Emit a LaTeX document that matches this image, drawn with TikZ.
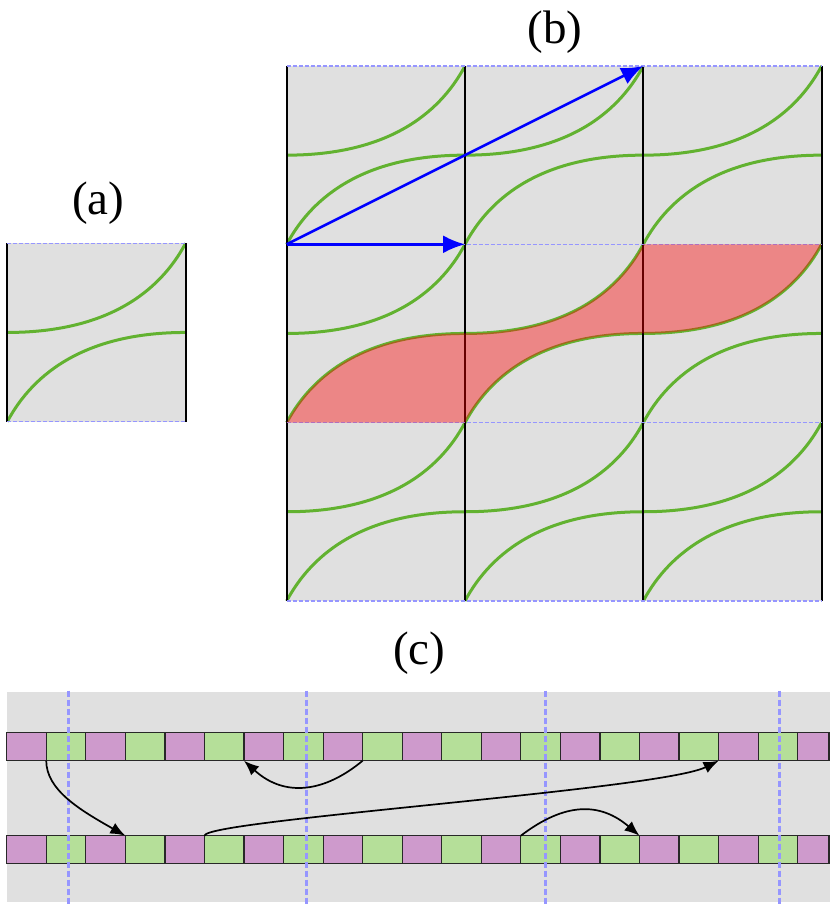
\documentclass[tikz,border=0pt]{standalone}
\usepackage{fontspec}
\setmainfont{Liberation Serif}
\usetikzlibrary{arrows.meta}
\definecolor{bggray}{RGB}{224,224,224}
\definecolor{curvegreen}{RGB}{98,178,48}
\definecolor{dashblue}{RGB}{150,150,255}
\definecolor{cellpurple}{RGB}{206,154,204}
\definecolor{cellgreen}{RGB}{181,223,153}
\definecolor{celledge}{RGB}{40,40,40}
\tikzset{
 gcurve/.style={curvegreen, line width=3pt},
 vline/.style={black, line width=2pt},
 hdash/.style={dashblue, line width=1.4pt, dash pattern=on 4pt off 2pt},
 vdash/.style={dashblue, line width=2.8pt, dash pattern=on 6pt off 3pt},
 lbl/.style={font=\fontsize{47}{56}\selectfont, inner sep=0pt, anchor=base},
 barrow/.style={blue, line width=2.6pt, -{Latex[length=22pt,width=18pt]}},
 karrow/.style={black, line width=1.7pt, -{Latex[length=15pt,width=12pt]}},
 pcell/.style={fill=cellpurple, draw=celledge, line width=1.2pt},
 gcell/.style={fill=cellgreen, draw=celledge, line width=1.2pt},
 redfill/.style={fill=red, fill opacity=0.4},
}
\newcommand{\cellcurves}[2]{%
  \draw[gcurve] (#1,#2+178.3) .. controls (#1+26.7,#2+128.4) and (#1+80.2,#2+89.15) .. (#1+178.3,#2+89.15);
  \draw[gcurve] (#1,#2+89.15) .. controls (#1+98.1,#2+89.15) and (#1+151.6,#2+49.9) .. (#1+178.3,#2);
}
\begin{document}
\begin{tikzpicture}[x=1pt,y=-1pt]
\useasboundingbox (0,0) rectangle (830,905);

% ---------- labels ----------
\node[lbl] (la) at (98.3,214.8) {(a)};
\node[lbl] (lb) at (555,43.5) {(b)};
\node[lbl] (lc) at (419.3,664.5) {(c)};

% ---------- panel (a) ----------
\fill[bggray] (7.3,243.3) rectangle (185.6,421.6);
\cellcurves{7.3}{243.3}
\draw[vline] (7.3,243.3) -- (7.3,421.6);
\draw[vline] (185.6,243.3) -- (185.6,421.6);
\draw[hdash] (7.3,243.3) -- (185.6,243.3);
\draw[hdash] (7.3,421.6) -- (185.6,421.6);

% ---------- panel (b) ----------
\fill[bggray] (286.7,66) rectangle (821.7,601);
\foreach \cx in {286.7,465,643.3}{
  \foreach \cy in {66,244.3,422.6}{
    \cellcurves{\cx}{\cy}
  }
}
\foreach \cx in {286.7,465,643.3,821.7}{
  \draw[vline] (\cx,66) -- (\cx,601);
}
\foreach \cy in {66,244.3,422.6,601}{
  \draw[hdash] (286.7,\cy) -- (821.7,\cy);
}
\fill[redfill] (286.7,422.6) .. controls (313.4,372.7) and (366.9,333.45) .. (465,333.45)
  .. controls (563.1,333.45) and (616.6,294.2) .. (643.3,244.3)
  -- (821.7,244.3)
  .. controls (794.9,294.2) and (741.4,333.45) .. (643.3,333.45)
  .. controls (545.2,333.45) and (491.7,372.7) .. (465,422.6)
  -- cycle;
\coordinate (o) at (286.7,244.3);
\coordinate (e1) at (465,244.3);
\coordinate (e2) at (643.3,66);
\draw[barrow] (o) -- (e1);
\draw[barrow] (o) -- (e2);

% ---------- panel (c) ----------
\fill[bggray] (6.7,691.7) rectangle (830,901.7);
\foreach \k in {0,...,20}{
  \pgfmathsetmacro\xa{6.7+39.55*\k}
  \pgfmathsetmacro\xb{min(6.7+39.55*(\k+1),829)}
  \ifodd\k
    \draw[gcell] (\xa,732.7) rectangle (\xb,760.7);
    \draw[gcell] (\xa,835.7) rectangle (\xb,863.3);
  \else
    \draw[pcell] (\xa,732.7) rectangle (\xb,760.7);
    \draw[pcell] (\xa,835.7) rectangle (\xb,863.3);
  \fi
}
\foreach \vx in {68.3,306.7,545.3,779.3}{
  \draw[vdash] (\vx,690.7) -- (\vx,905);
}
\coordinate (a1s) at (46.25,760.7);
\coordinate (a1e) at (125.35,835.7);
\coordinate (a2s) at (362.65,760.7);
\coordinate (a2e) at (244,760.7);
\coordinate (a3s) at (204.45,835.7);
\coordinate (a3e) at (718.6,760.7);
\coordinate (a4s) at (520.85,835.7);
\coordinate (a4e) at (639.5,835.7);
\draw[karrow] (a1s) .. controls +(0,29.3) and +(-45.35,-25.7) .. (a1e);
\draw[karrow] (a2s) .. controls +(-37.65,31.3) and +(41,37.3) .. (a2e);
\draw[karrow] (a3s) .. controls +(0,-15.7) and +(-58.6,29.3) .. (a3e);
\draw[karrow] (a4s) .. controls +(44.15,-33.7) and +(-39.5,-33.7) .. (a4e);
\end{tikzpicture}
\end{document}
